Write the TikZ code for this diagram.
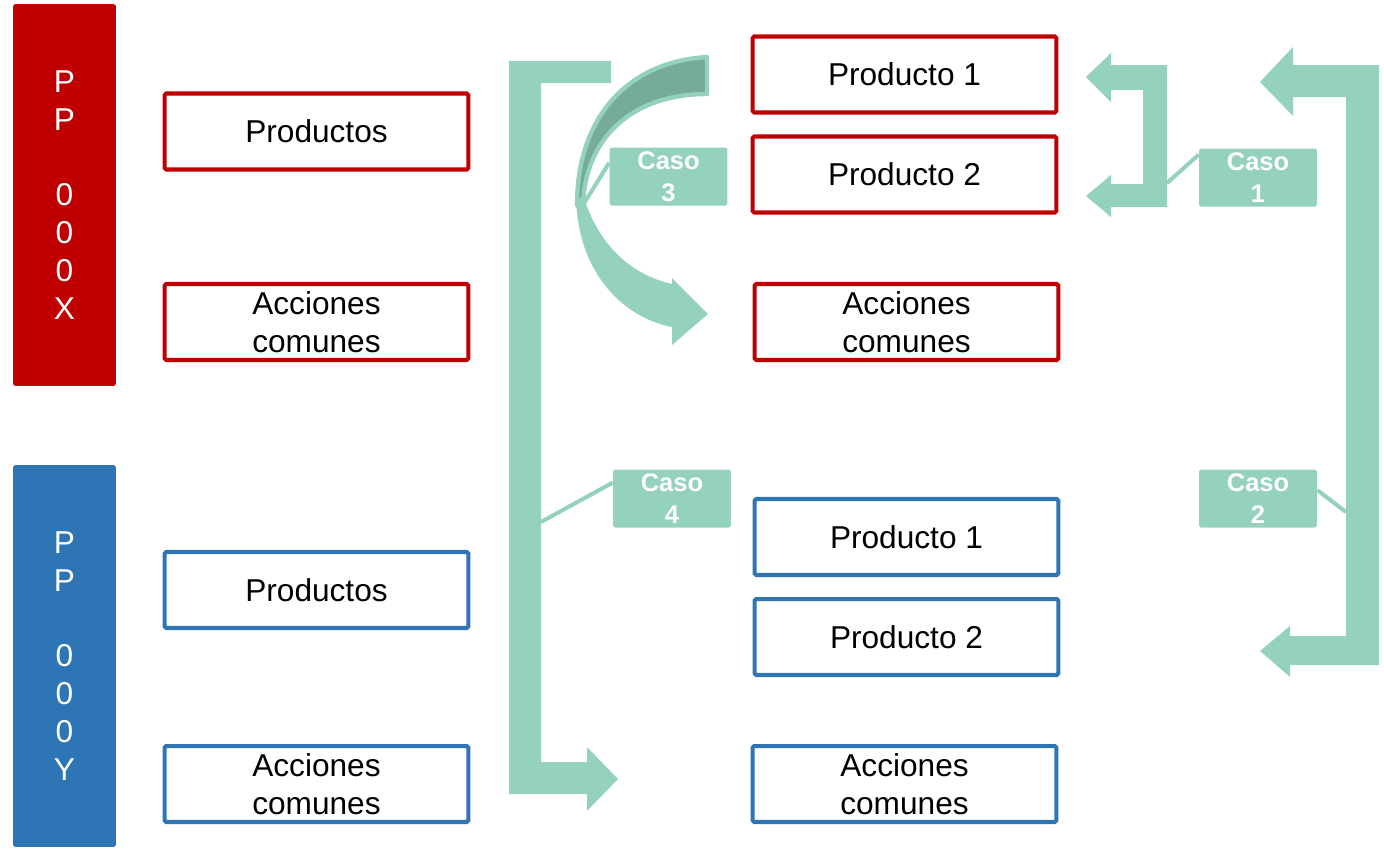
\documentclass[tikz,border=0pt]{standalone}
\usepackage{fontspec}
\setmainfont{Liberation Sans}
\definecolor{ppred}{HTML}{C00000}
\definecolor{ppblue}{HTML}{2E75B6}
\definecolor{casegreen}{HTML}{94D2BD}
\definecolor{casedark}{HTML}{76AB97}
\begin{document}
\begin{tikzpicture}[x=0.02cm, y=-0.02cm,
    ppbar/.style={text=white, align=center, minimum width=2.06cm, minimum height=7.64cm, rounded corners=1.5pt, inner sep=0pt, font=\fontsize{18}{21.5}\selectfont},
    redbox/.style={draw=ppred, line width=2.3pt, fill=white, rounded corners=1pt, minimum width=6.08cm, minimum height=1.52cm, align=center, inner sep=0pt, font=\fontsize{18}{21.5}\selectfont},
    bluebox/.style={redbox, draw=ppblue},
    casebox/.style={fill=casegreen, text=white, align=center, minimum width=2.36cm, minimum height=1.16cm, rounded corners=1pt, inner sep=0pt, font=\fontsize{14.5}{18}\selectfont\bfseries},
    caseline/.style={draw=casegreen, line width=2.3pt}]

    \useasboundingbox (0,0) rectangle (1384,850);

    % Arrows
    \fill[casegreen] (509,61) -- (611,61) -- (611,83) -- (541,83) -- (541,762) -- (587,762) -- (587,747)
        -- (618,779) -- (587,811) -- (587,794) -- (509,794) -- cycle;
    \filldraw[fill=casedark, draw=casegreen, line width=2.5pt, line join=round]
        (707,57) .. controls (625,62) and (577,120) .. (577,205)
        -- (583,205) .. controls (585,140) and (630,94) .. (707,94) -- cycle;
    \fill[casegreen] (576,198) .. controls (578,275) and (625,318) .. (672,327) -- (672,345) -- (708,314)
        -- (672,278) -- (672,284) .. controls (628,274) and (598,242) .. (584,198) -- cycle;
    \fill[casegreen] (1167,65) -- (1167,207) -- (1111,207) -- (1111,217) -- (1086,196) -- (1111,175) -- (1111,184)
        -- (1143,184) -- (1143,90) -- (1111,90) -- (1111,102) -- (1086,77) -- (1111,53) -- (1111,65) -- cycle;
    \fill[casegreen] (1379,65) -- (1379,665) -- (1290,665) -- (1290,677) -- (1260,651) -- (1290,626) -- (1290,636)
        -- (1346,636) -- (1346,97) -- (1293,97) -- (1293,116) -- (1260,82) -- (1293,47) -- (1293,65) -- cycle;

    % Nodes
    \node at (64.5, 195) (pX) [ppbar, fill=ppred] {P\\P\\~\\0\\0\\0\\X};
    \node at (64.5, 656) (pY) [ppbar, fill=ppblue] {P\\P\\~\\0\\0\\0\\Y};
    \node at (316.5, 131.5) (prodX) [redbox] {Productos};
    \node at (316.5, 322) (accX) [redbox] {Acciones\\comunes};
    \node at (316.5, 590) (prodY) [bluebox] {Productos};
    \node at (316.5, 784) (accY) [bluebox] {Acciones\\comunes};
    \node at (904.5, 74.5) (prod1X) [redbox] {Producto 1};
    \node at (904.5, 174.5) (prod2X) [redbox] {Producto 2};
    \node at (906.5, 322) (acc2X) [redbox] {Acciones\\comunes};
    \node at (906.5, 537) (prod1Y) [bluebox] {Producto 1};
    \node at (906.5, 637) (prod2Y) [bluebox] {Producto 2};
    \node at (904.5, 784) (acc2Y) [bluebox] {Acciones\\comunes};
    \node at (668.5, 176.5) (caso3) [casebox] {Caso\\3};
    \node at (672, 498.5) (caso4) [casebox] {Caso\\4};
    \node at (1258, 177.5) (caso1) [casebox] {Caso\\1};
    \node at (1258, 498.5) (caso2) [casebox] {Caso\\2};

    \coordinate (arc3) at (583,205);
    \coordinate (bar4) at (541,522);
    \coordinate (bar1) at (1167,183);
    \coordinate (bar2) at (1346,512);

    % Connectors
    \draw[caseline] (caso3.167) -- (arc3);
    \draw[caseline] (caso4.165) -- (bar4);
    \draw[caseline] (caso1.159) -- (bar1);
    \draw[caseline] (caso2.8) -- (bar2);

\end{tikzpicture}
\end{document}
